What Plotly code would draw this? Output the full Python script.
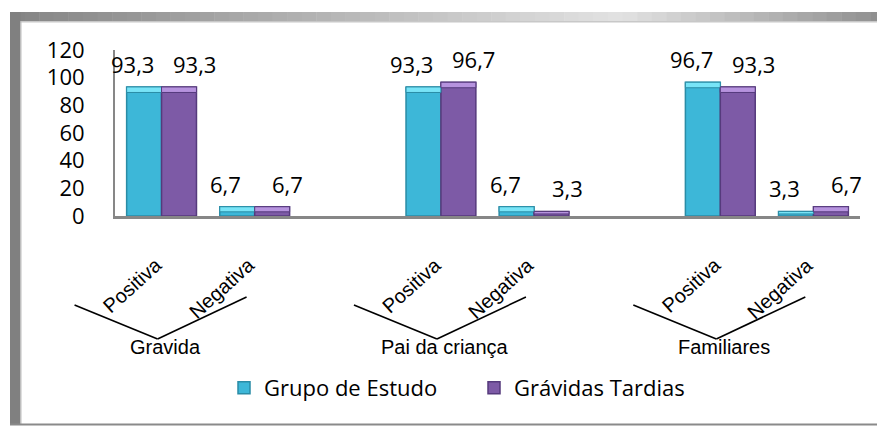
import plotly.graph_objects as go

# ---- data ----
groups = ["Gravida", "Pai da criança", "Familiares"]
answers = ["Positiva", "Negativa"]
series_names = ["Grupo de Estudo", "Grávidas Tardias"]
grupo_estudo = [93.3, 6.7, 93.3, 6.7, 96.7, 3.3]
gravidas_tardias = [93.3, 6.7, 96.7, 3.3, 93.3, 6.7]
y_ticks = [0, 20, 40, 60, 80, 100, 120]

# category slots (blank slot between groups, as in the original)
slots = [g * 3 + a for g in range(len(groups)) for a in range(len(answers))]
X_RANGE = [-0.5, 7.5]

face = ["#3DB7D8", "#7D5AA6"]
edge = ["#2A8CA6", "#553A7C"]
cap = ["#78E4F7", "#B693DE"]

def fmt(v):
    return f"{v:.1f}".replace(".", ",")

NUM_FONT = "Open Sans"
CAT_FONT = "Liberation Sans"

# page offset compensation (default 8px body margin)
OFF = 8
W, H = 885 - OFF, 426 - OFF
PL, PR, PT, PB = 115 - OFF, 885 - 860, 50 - OFF, H - (216 - OFF)

fig = go.Figure()
for i, (name, vals) in enumerate(zip(series_names, [grupo_estudo, gravidas_tardias])):
    fig.add_trace(go.Bar(
        x=slots, y=vals, name=name, offsetgroup=str(i),
        marker=dict(color=face[i], line=dict(color=edge[i], width=1.5)),
        hoverinfo="skip",
    ))
for i, vals in enumerate([grupo_estudo, gravidas_tardias]):
    c = [min(4.0, v * 0.55) for v in vals]
    fig.add_trace(go.Bar(
        x=slots, y=c, base=[v - ci for v, ci in zip(vals, c)],
        offsetgroup=str(i), showlegend=False,
        marker=dict(color=cap[i], line=dict(color=edge[i], width=1)),
        hoverinfo="skip",
    ))

def to_paper_x(s):
    return (s - X_RANGE[0]) / (X_RANGE[1] - X_RANGE[0])

annotations = []
# data labels
for i, vals in enumerate([grupo_estudo, gravidas_tardias]):
    for s, v in zip(slots, vals):
        annotations.append(dict(
            x=s, y=v, xref="x", yref="y", text=fmt(v), showarrow=False,
            xanchor="center", yanchor="middle",
            xshift=(-29 if i == 0 else 33), yshift=23,
            font=dict(family=NUM_FONT, size=22, color="#000000"),
        ))
# category labels (two-level)
shapes = []
for g, gname in enumerate(groups):
    pos = g * 3
    annotations.append(dict(
        x=pos, y=0, xref="x", yref="y", text=gname, showarrow=False,
        xanchor="center", yanchor="middle", xshift=4, yshift=-131,
        font=dict(family=CAT_FONT, size=20, color="#000000"),
    ))
    for a, aname in enumerate(answers):
        annotations.append(dict(
            x=pos + a, y=0, xref="x", yref="y", text=aname, showarrow=False,
            textangle=-42, xanchor="center", yanchor="middle",
            xshift=(-29 if a == 0 else -33), yshift=(-69 if a == 0 else -72),
            font=dict(family=CAT_FONT, size=20, color="#000000"),
        ))
    for dx, dy in [(-83, 34), (89, 42)]:
        shapes.append(dict(
            type="line", xref="paper", yref="paper", xsizemode="pixel", ysizemode="pixel",
            xanchor=to_paper_x(pos), yanchor=0, x0=-4, y0=-123, x1=-4 + dx, y1=-123 + dy,
            line=dict(color="#000000", width=1.6),
        ))

# frame (absolute pixel placement relative to plot-area top-left corner)
def frame_rect(X0, Y0, X1, Y1, color):
    X0, X1, Y0, Y1 = X0 - OFF, X1 - OFF, Y0 - OFF, Y1 - OFF
    return dict(type="rect", xref="paper", yref="paper",
                xsizemode="pixel", ysizemode="pixel", xanchor=0, yanchor=1,
                x0=X0 - PL, x1=X1 - PL, y0=PT - Y0, y1=PT - Y1,
                fillcolor=color, line=dict(width=0), layer="below")

def lerp(c1, c2, t):
    return "#%02x%02x%02x" % tuple(int(round(a + (b - a) * t)) for a, b in zip(c1, c2))

dark = (0x84, 0x84, 0x84)
light = (0xE2, 0xE2, 0xE2)
right = (0x8E, 0x8E, 0x8E)
n = 60
X_start, X_end, X_mid = 10, 885, 620
for k in range(n):
    xa = X_start + (X_end - X_start) * k / n
    xb = X_start + (X_end - X_start) * (k + 1) / n + 0.5
    xc = (xa + xb) / 2
    if xc < X_mid:
        col = lerp(dark, light, (xc - X_start) / (X_mid - X_start))
    else:
        col = lerp(light, right, (xc - X_mid) / (X_end - X_mid))
    shapes.append(frame_rect(xa, 12, xb, 21, col))
shapes.append(frame_rect(20, 21, 885, 22.5, "#C8C8C8"))
shapes.append(frame_rect(10, 12, 20.5, 425, "#808080"))
shapes.append(frame_rect(20.5, 21, 21.5, 425, "#BDBDBD"))
shapes.append(frame_rect(10, 423.5, 885, 425.5, "#8A8A8A"))

leg_x = (224 - 115) / (860 - 115)
leg_y = (216 - 388) / (216 - 50)

fig.update_layout(
    width=W, height=H,
    margin=dict(l=PL, r=PR, t=PT, b=PB, autoexpand=False),
    paper_bgcolor="#FFFFFF", plot_bgcolor="#FFFFFF",
    barmode="group", bargap=0.25, bargroupgap=0,
    showlegend=True,
    legend=dict(orientation="h", x=leg_x, y=leg_y, xanchor="left", yanchor="middle",
                font=dict(family=NUM_FONT, size=22, color="#000000"),
                entrywidth=205, entrywidthmode="pixels", itemwidth=30,
                bgcolor="rgba(0,0,0,0)"),
    annotations=annotations, shapes=shapes,
    xaxis=dict(range=X_RANGE, showline=True, linecolor="#878787", linewidth=3,
               showgrid=False, zeroline=False, showticklabels=False, ticks="",
               fixedrange=True),
    yaxis=dict(range=[0, 120], tickvals=y_ticks, showline=True, linecolor="#878787",
               linewidth=2, showgrid=False, zeroline=False, ticks="",
               ticklabelstandoff=24,
               tickfont=dict(family=NUM_FONT, size=22, color="#000000"),
               fixedrange=True),
)

fig.write_html("out.html")
